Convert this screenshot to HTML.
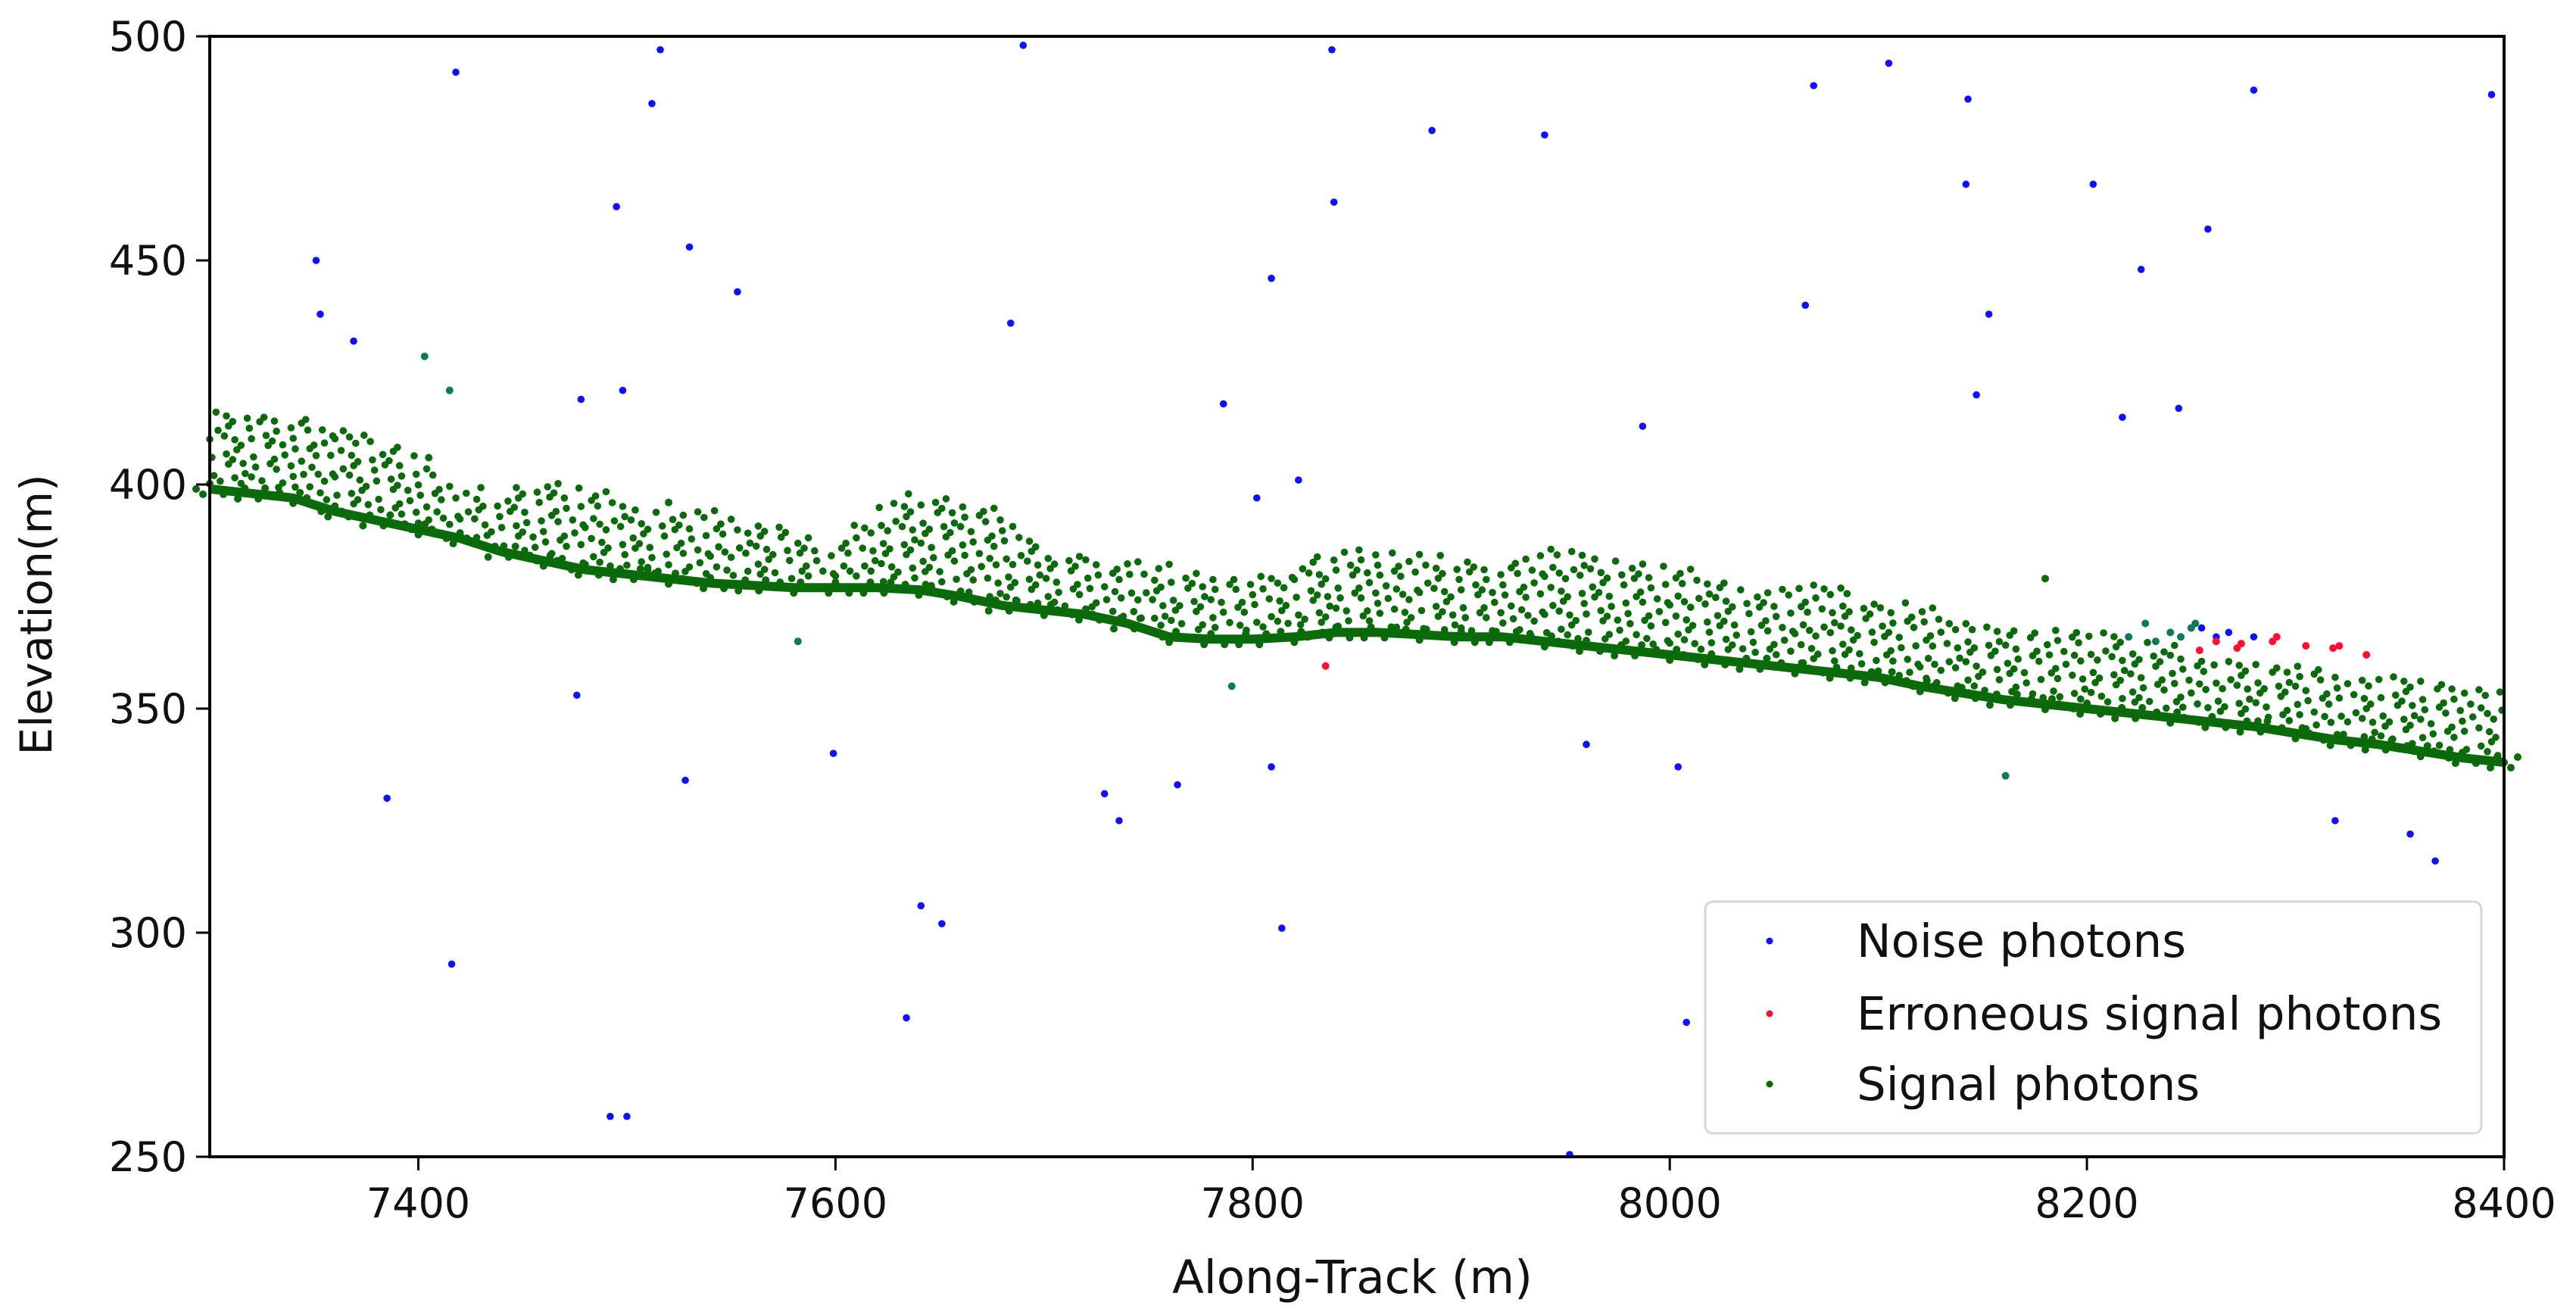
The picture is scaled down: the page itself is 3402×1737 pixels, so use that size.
<!DOCTYPE html>
<html><head><meta charset="utf-8"><style>
html,body{margin:0;padding:0;background:#fff;}
svg{display:block;font-family:"DejaVu Sans","Liberation Sans",sans-serif;}
</style></head><body>
<svg id="chart" width="3402" height="1737" viewBox="0 0 3402 1737" xmlns="http://www.w3.org/2000/svg">
<rect width="3402" height="1737" fill="#fff"/>
<g id="marks"></g>
<g id="axes"></g>
<g id="legend"></g>
</svg>
<script>
// ---- data ----
const xTicks = [7400, 7600, 7800, 8000, 8200, 8400];
const yTicks = [250, 300, 350, 400, 450, 500];
const binX = [7300,7320,7340,7360,7380,7400,7420,7440,7460,7480,7500,7520,7540,7560,7580,7600,7620,7640,7660,7680,7700,7720,7740,7760,7780,7800,7820,7840,7860,7880,7900,7920,7940,7960,7980,8000,8020,8040,8060,8080,8100,8120,8140,8160,8180,8200,8220,8240,8260,8280,8300,8320,8340,8360,8380,8400];
const groundElev = [399,398,397,394,392,390,388,385,383,381,380,379,378,377.5,377,377,377,376.5,375,373,372,371,369,366,365.5,365.5,366,367,367,366.5,366,366,365,364,363,362,361,360,359,358,357,355,353.5,352,351,350,349,348,347,346,344.5,343,342,340.5,339,338];
const canopyTop = [417,416,415,414,410,406,400,398,402,399,397,392,396,392,390,386,396,398,397,394,386,384,383,382,380,378,383,385,386,384,384,382,388,384,382,383,380,376,379,378,374,373,370,368,367,368,366,364,362,360,360,358,357,356,355,355];
const noiseX = [7351,7353,7369,7418,7516,7512,7495,7530,7553,7478,7498,7690,7684,7838,7839,7886,7940,7809,7786,7802,7822,7987,8069,8105,8143,8142,8065,8153,8147,8203,8226,8258,8280,8394,8217,8244,7476,7385,7416,7528,7599,7641,7651,7634,7492,7500,7729,7736,7764,7809,7814,7960,8004,8008,7952,8319,8355,8367,8255,8262,8268,8280];
const noiseY = [450,438,432,492,497,485,462,453,443,419,421,498,436,497,463,479,478,446,418,397,401,413,489,494,486,467,440,438,420,467,448,457,488,487,415,417,353,330,293,334,340,306,302,281,259,259,331,325,333,337,301,342,337,280,250.5,325,322,316,368,366,367,366];
const errX = [7835,8254,8262,8272,8274,8289,8291,8305,8318,8321,8334];
const errY = [359.5,363,365,363.5,364.5,365,366,364,363.5,364,362];
const sigExtraX = [7403,7415,7582,7790,8161,8220,8228,8233,8240,8245,8250,8252,7405,7510,7520,8180];
const sigExtraY = [428.6,421,365,355,335,366,369,365,367,366,368,369,406,381,396,379];

// ---- scales ----
const X0 = 277, X1 = 3307, Y0 = 1528, Y1 = 48;
const xMin = 7300, xMax = 8400, yMin = 250, yMax = 500;
function sx(v){ return X0 + (v - xMin) / (xMax - xMin) * (X1 - X0); }
function sy(v){ return Y0 - (v - yMin) / (yMax - yMin) * (Y0 - Y1); }
const NS = "http://www.w3.org/2000/svg";
function mk(tag, attrs, parent){ const e = document.createElementNS(NS, tag); for (const k in attrs) e.setAttribute(k, attrs[k]); parent.appendChild(e); return e; }

const marks = document.getElementById('marks');
const gSig = mk('g', {}, marks);


const SIG = "#0b6b0b";

// canopy speckle per bin
for (let i = 0; i < binX.length - 1; i++) {
  const g0 = groundElev[i], g1 = groundElev[i+1];
  const t0 = canopyTop[i], t1 = canopyTop[i+1];
  let r = 0;
  for (let e = 2.0; ; e += 1.7, r++) {
    const gm = (g0 + g1) / 2, tm = (t0 + t1) / 2;
    if (gm + e > tm + 0.5) break;
    for (let c = 0; c < 4; c++) {
      const h = (i * 37 + r * 17 + c * 29) % 11;
      if (h < 5) continue;
      const f = (c + ((r * 7 + i * 3) % 5) / 5) / 4;
      const gx = g0 + (g1 - g0) * f, tx = t0 + (t1 - t0) * f;
      const ev = gx + e + ((h % 3) - 1) * 0.6;
      if (ev > tx + 0.5) continue;
      const d = mk('circle', {cx: sx(binX[i] + (binX[i+1]-binX[i]) * f).toFixed(1), cy: sy(ev).toFixed(1), r: 4.8, fill: SIG}, gSig);
      
      
    }
  }
}
// ground band
let pts = binX.map((x, i) => sx(x).toFixed(1) + ',' + sy(groundElev[i]).toFixed(1)).join(' ');
const gl = mk('polyline', {points: pts, fill: 'none', stroke: SIG, 'stroke-width': 12, 'stroke-linejoin': 'round'}, gSig);


for (let i = 0; i < binX.length; i++) {
  for (let k = -2; k <= 2; k++) {
    const d = mk('circle', {cx: sx(binX[i]) + k * 9, cy: sy(groundElev[i]) + ((i + k + 6) % 3 - 1) * 7, r: 5, fill: SIG}, gSig);
    
    
  }
}
for (let i = 0; i < sigExtraX.length; i++) {
  const d = mk('circle', {cx: sx(sigExtraX[i]), cy: sy(sigExtraY[i]), r: 5, fill: i < 12 ? '#0a7a5a' : SIG}, gSig);
  
  
}
const gNoise = mk('g', {}, marks);


for (let i = 0; i < noiseX.length; i++) {
  const d = mk('circle', {cx: sx(noiseX[i]), cy: sy(noiseY[i]), r: 4.8, fill: '#1010ff'}, gNoise);
  
  
}
const gErr = mk('g', {}, marks);


for (let i = 0; i < errX.length; i++) {
  const d = mk('circle', {cx: sx(errX[i]), cy: sy(errY[i]), r: 5, fill: '#ff1030'}, gErr);
  
  
}

// ---- axes ----
const FS = 54, FT = 61;
const axes = document.getElementById('axes');
const frame = mk('rect', {x: X0, y: Y1, width: X1 - X0, height: Y0 - Y1, fill: 'none', stroke: '#000', 'stroke-width': 4}, axes);


xTicks.forEach(v => {
  const x = sx(v);
  const t = mk('line', {x1: x, x2: x, y1: Y0, y2: Y0 + 18, stroke: '#000', 'stroke-width': 3}, axes);
  
  
  const l = mk('text', {x: x, y: Y0 + 80, 'text-anchor': 'middle', 'font-size': FS, fill: '#111'}, axes);
  l.textContent = v;
  
  
});
yTicks.forEach(v => {
  const y = sy(v);
  const t = mk('line', {x1: X0 - 18, x2: X0, y1: y, y2: y, stroke: '#000', 'stroke-width': 3}, axes);
  
  
  const l = mk('text', {x: X0 - 30, y: y + 19, 'text-anchor': 'end', 'font-size': FS, fill: '#111'}, axes);
  l.textContent = v;
  
  
});
const xt = mk('text', {x: 1786, y: 1708, 'text-anchor': 'middle', 'font-size': FT, fill: '#111'}, axes);
xt.textContent = 'Along-Track (m)';


const yt = mk('text', {x: 0, y: 0, 'text-anchor': 'middle', 'font-size': 58, fill: '#111', transform: 'translate(68,812) rotate(-90)'}, axes);
yt.textContent = 'Elevation(m)';



// ---- legend ----
const lg = document.getElementById('legend');
const box = mk('rect', {x: 2252, y: 1191, width: 1025, height: 306, rx: 10, fill: '#fff', 'fill-opacity': 0.85, stroke: '#d6d6d6', 'stroke-width': 3}, lg);


const legLabels = ['Noise photons', 'Erroneous signal photons', 'Signal photons'];
const legColors = ['#1010ff', '#ff1030', SIG];
const legY = [1243, 1339, 1432];
legLabels.forEach((name, i) => {
  const m = mk('circle', {cx: 2337, cy: legY[i], r: 4.5, fill: legColors[i]}, lg);
  
  
  const t = mk('text', {x: 2452, y: legY[i] + 21, 'font-size': FT, fill: '#111'}, lg);
  t.textContent = name;
  
  
});
</script>
</body></html>
